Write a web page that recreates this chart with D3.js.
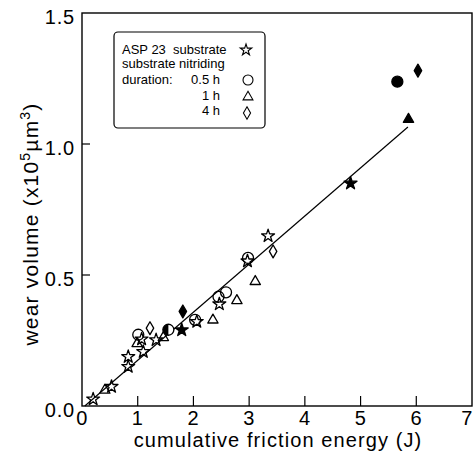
<!DOCTYPE html>
<html><head><meta charset="utf-8">
<script src="https://cdn.jsdelivr.net/npm/d3@7"></script>
<style>
html,body{margin:0;padding:0;background:#fff;}
svg{display:block;font-family:"Liberation Sans",Arial,Helvetica,sans-serif;}
</style></head>
<body><svg id="chart" width="475" height="470"></svg>
<script>
// ---- data ----
const xTicks = [0,1,2,3,4,5,6,7];
const yTicks = [0.0,0.5,1.0,1.5];
const yTickLabels = ["0.0","0.5","1.0","1.5"];

const starX = [0.20,0.53,0.83,0.83,1.10,1.07,1.33,2.06,2.465,2.97,3.34];
const starY = [0.026,0.074,0.150,0.188,0.207,0.255,0.252,0.322,0.389,0.553,0.649];
const starFilledX = [1.79,4.82];
const starFilledY = [0.290,0.850];

const circleX = [1.01,2.03,2.45,2.585,2.98];
const circleY = [0.272,0.329,0.417,0.434,0.565];
const circleHalfX = [1.55];
const circleHalfY = [0.291];
const circleFilledX = [5.66];
const circleFilledY = [1.238];

const triangleX = [0.41,0.99,1.46,2.35,2.78,3.11];
const triangleY = [0.064,0.242,0.265,0.332,0.406,0.479];
const triangleFilledX = [5.86];
const triangleFilledY = [1.098];

const diamondX = [1.22,3.43];
const diamondY = [0.297,0.590];
const diamondFilledX = [1.81,6.03];
const diamondFilledY = [0.361,1.280];

const fitX = [0.05,5.85];
const fitY = [0.0,1.065];

const legendLines = ["ASP 23\u00a0\u00a0substrate","substrate nitriding","duration:"];
const legendDurations = ["0.5 h","1 h","4 h"];

// ---- chart ----
const svg = d3.select("#chart");
const x = d3.scaleLinear().domain([0,7]).range([82,472]);
const y = d3.scaleLinear().domain([0,1.5]).range([406,13]);
const SW = 1.3;

// frame
svg.append("rect").attr("x",x(0)).attr("y",y(1.5))
  .attr("width",x(7)-x(0)).attr("height",y(0)-y(1.5))
  .attr("fill","none").attr("stroke","#000").attr("stroke-width",1.4);

// x ticks (inward)
svg.append("g").selectAll("line").data(xTicks.slice(1,-1)).join("line")
  .attr("x1",d=>x(d)).attr("x2",d=>x(d)).attr("y1",y(0)).attr("y2",y(0)-10)
  .attr("stroke","#000").attr("stroke-width",1.2);
svg.append("g").selectAll("text").data(xTicks).join("text")
  .attr("x",d=>Math.min(x(d),467)).attr("y",425).attr("text-anchor","middle")
  .attr("font-size",20).attr("letter-spacing",0.6).text(d=>d);

// y ticks (inward)
svg.append("g").selectAll("line").data(yTicks.slice(1,-1)).join("line")
  .attr("x1",x(0)).attr("x2",x(0)+8).attr("y1",d=>y(d)).attr("y2",d=>y(d))
  .attr("stroke","#000").attr("stroke-width",1.2);
svg.append("g").selectAll("text").data(yTicks).join("text")
  .attr("x",75).attr("y",d=>y(d)+11).attr("text-anchor","end")
  .attr("font-size",20).attr("letter-spacing",0.8).text((d,i)=>yTickLabels[i]);

// axis titles
svg.append("text").attr("x",278).attr("y",447).attr("text-anchor","middle")
  .attr("font-size",20).attr("letter-spacing",1.1).text("cumulative friction energy (J)");

const yt = svg.append("text").attr("transform","translate(38,224) rotate(-90)")
  .attr("text-anchor","middle").attr("font-size",21).attr("letter-spacing",1.2);
yt.append("tspan").text("wear volume (x10");
yt.append("tspan").attr("font-size",14).attr("dy",-8).text("5");
yt.append("tspan").attr("dy",8).text("µm");
yt.append("tspan").attr("font-size",14).attr("dy",-8).text("3");
yt.append("tspan").attr("dy",8).text(")");

// fit line
svg.append("line").attr("x1",x(fitX[0])).attr("y1",y(fitY[0]))
  .attr("x2",x(fitX[1])).attr("y2",y(fitY[1]))
  .attr("stroke","#000").attr("stroke-width",1.2);

// symbols
const starPath = d3.symbol(d3.symbolStar,52)();
const triPath = d3.symbol(d3.symbolTriangle,46)();
const diaPath = d3.symbol(d3.symbolDiamond,48)();
const circR = 5.5;

function pts(xs,ys){return xs.map((v,i)=>({x:v,y:ys[i]}));}
function drawPath(g,data,path,filled,dy){
  g.selectAll(null).data(data).join("path")
    .attr("d",path).attr("transform",d=>`translate(${x(d.x)},${y(d.y)+(dy||0)})`)
    .attr("fill",filled?"#000":"#fff").attr("fill-opacity",filled?1:0)
    .attr("stroke","#000").attr("stroke-width",SW).attr("stroke-linejoin","round");
}
const gm = svg.append("g");
drawPath(gm,pts(triangleX,triangleY),triPath,false,1);
drawPath(gm,pts(triangleFilledX,triangleFilledY),triPath,true,1);
drawPath(gm,pts(diamondX,diamondY),diaPath,false);
drawPath(gm,pts(diamondFilledX,diamondFilledY),diaPath,true);
gm.selectAll(null).data(pts(circleX,circleY)).join("circle")
  .attr("cx",d=>x(d.x)).attr("cy",d=>y(d.y)).attr("r",circR)
  .attr("fill","none").attr("stroke","#000").attr("stroke-width",SW);
gm.selectAll(null).data(pts(circleFilledX,circleFilledY)).join("circle")
  .attr("cx",d=>x(d.x)).attr("cy",d=>y(d.y)).attr("r",circR)
  .attr("fill","#000").attr("stroke","#000").attr("stroke-width",SW);
const half = d3.arc().innerRadius(0).outerRadius(circR).startAngle(0).endAngle(Math.PI);
gm.selectAll(null).data(pts(circleHalfX,circleHalfY)).join("circle")
  .attr("cx",d=>x(d.x)).attr("cy",d=>y(d.y)).attr("r",circR)
  .attr("fill","#fff").attr("stroke","#000").attr("stroke-width",SW);
gm.selectAll(null).data(pts(circleHalfX,circleHalfY)).join("path")
  .attr("d",half()).attr("transform",d=>`translate(${x(d.x)},${y(d.y)}) rotate(180)`)
  .attr("fill","#000");
drawPath(gm,pts(starX,starY),starPath,false);
drawPath(gm,pts(starFilledX,starFilledY),starPath,true);

// legend
const lg = svg.append("g");
lg.append("rect").attr("x",114).attr("y",32).attr("width",151).attr("height",96)
  .attr("rx",4).attr("fill","#fff").attr("stroke","#000").attr("stroke-width",1.2);
const lineYs = [54,68,84];
lg.selectAll(null).data(legendLines).join("text")
  .attr("x",122).attr("y",(d,i)=>lineYs[i]).attr("font-size",13).text(d=>d);
const durYs = [84,100,115];
lg.selectAll(null).data(legendDurations).join("text")
  .attr("x",220).attr("y",(d,i)=>durYs[i]).attr("text-anchor","end").attr("font-size",13).text(d=>d);
lg.append("path").attr("d",d3.symbol(d3.symbolStar,40)()).attr("transform","translate(246,50)")
  .attr("fill","none").attr("stroke","#000").attr("stroke-width",1.1);
lg.append("circle").attr("cx",248).attr("cy",80).attr("r",5)
  .attr("fill","none").attr("stroke","#000").attr("stroke-width",1.1);
lg.append("path").attr("d",d3.symbol(d3.symbolTriangle,42)()).attr("transform","translate(248,97)")
  .attr("fill","none").attr("stroke","#000").attr("stroke-width",1.1);
lg.append("path").attr("d",d3.symbol(d3.symbolDiamond,44)()).attr("transform","translate(247,113)")
  .attr("fill","none").attr("stroke","#000").attr("stroke-width",1.1);
</script></body></html>
